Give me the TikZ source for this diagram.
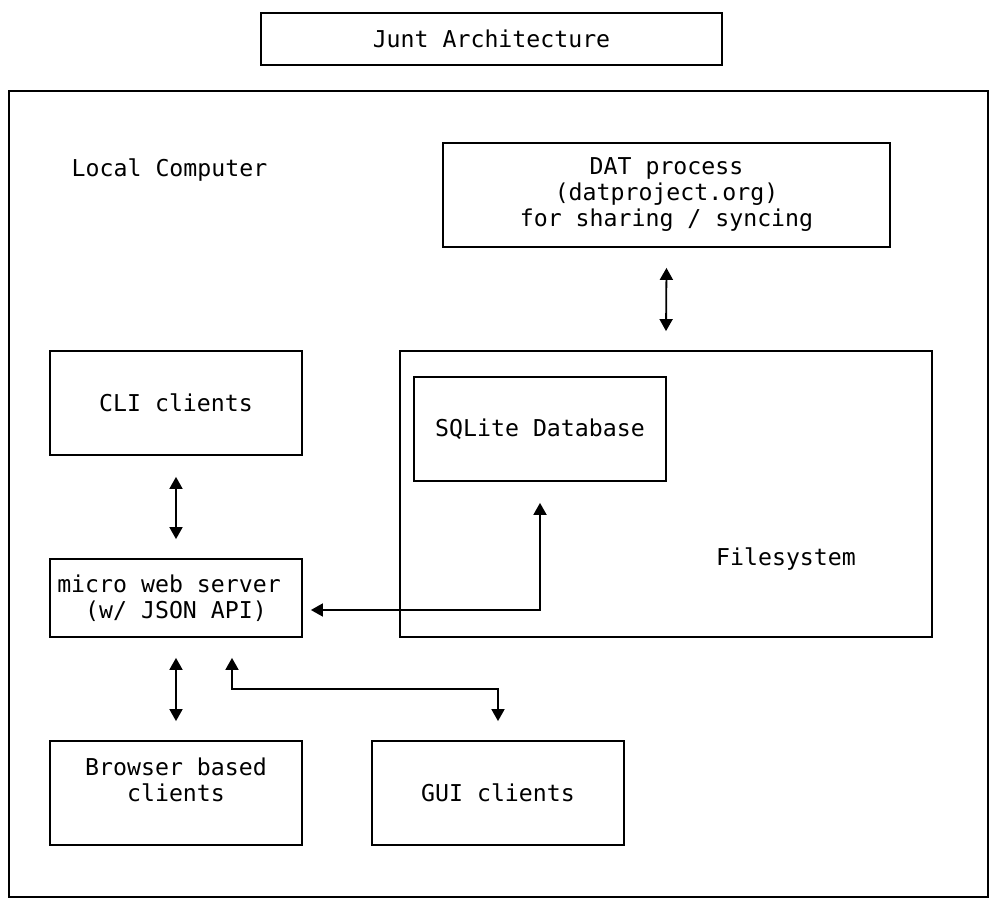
\documentclass[tikz,border=0pt]{standalone}
\usepackage{fontspec}
\setmonofont{DejaVu Sans Mono}
\usetikzlibrary{arrows.meta}
\begin{document}
\begin{tikzpicture}[x=1pt,y=-1pt,line width=1.8pt,
  font=\ttfamily\fontsize{23.2}{26}\selectfont,
  box/.style={draw,minimum width=252pt,minimum height=104pt,align=center,inner sep=0pt},
  dbl/.style={{Triangle[width=13pt,length=12pt]}-{Triangle[width=13pt,length=12pt]}}]
\useasboundingbox (0,0) rectangle (996,912);
\node[box,minimum width=461pt,minimum height=52pt] (title) at (491.5,39) {Junt Architecture};
\node[box,minimum width=979pt,minimum height=806pt] (local) at (498.5,494) {};
\node (locallabel) at (169.5,170) {Local Computer};
\node[box,minimum width=447pt] (dat) at (666.5,195) {DAT process\\(datproject.org)\\for sharing / syncing};
\node[box,minimum width=532pt,minimum height=286pt] (fs) at (666,494) {};
\node (fslabel) at (786,559) {Filesystem};
\node[box] (sqlite) at (540,429) {SQLite Database};
\node[box] (cli) at (176,403) {CLI clients};
\node[box,minimum height=78pt,align=left] (web) at (176,598) {micro web server\hphantom{x}\\\hphantom{xx}(w/ JSON API)};
\node[box] (browser) at (176,793) {Browser based\\clients\\\mbox{}};
\node[box] (gui) at (498,793) {GUI clients};
% connectors
\draw[dbl] ([yshift=-20pt]dat.south) -- ([yshift=19pt]fs.north);
\draw[dbl] ([yshift=-21pt]cli.south) -- ([yshift=19pt]web.north);
\draw[dbl] ([yshift=-21pt]sqlite.south) |- ([xshift=8pt,yshift=-12pt]web.east);
\draw[dbl] ([yshift=-20pt]web.south) -- ([yshift=19pt]browser.north);
\draw[dbl] ([xshift=56pt,yshift=-20pt]web.south) -- ++(0,31) -| ([yshift=19pt]gui.north);
\end{tikzpicture}
\end{document}
